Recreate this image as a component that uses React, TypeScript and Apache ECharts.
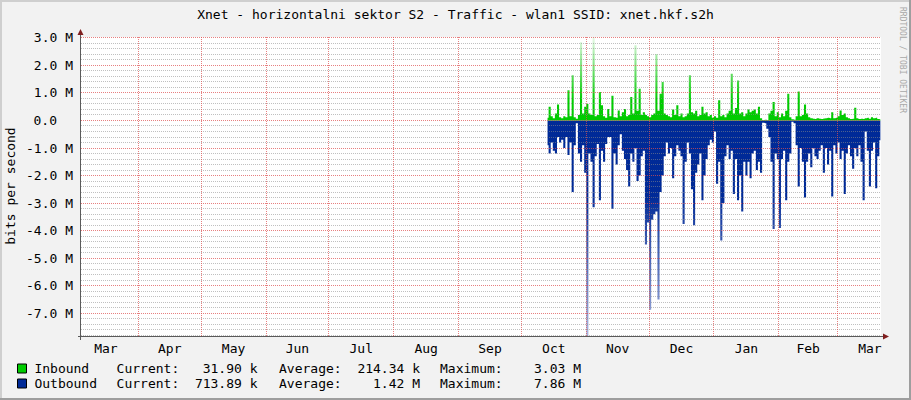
import React, { useEffect, useRef } from "react";
import * as echarts from "echarts";

const TITLE = "Xnet - horizontalni sektor S2 - Traffic - wlan1 SSID: xnet.hkf.s2h";
const Y_NAME = "bits per second";
const WATERMARK = "RRDTOOL / TOBI OETIKER";

// x axis: days counted from 1 March of the first year
const X_MIN = 3.6;
const X_MAX = 385.8;
const MONTH_STARTS = [0, 31, 61, 92, 122, 153, 184, 214, 245, 275, 306, 337, 365];
const MONTH_MIDS = [15.5, 46, 76.5, 107, 137.5, 168.5, 199, 229.5, 260, 290.5, 321.5, 351, 380.5];
const MONTH_LABELS = ["Mar", "Apr", "May", "Jun", "Jul", "Aug", "Sep", "Oct", "Nov", "Dec", "Jan", "Feb", "Mar"];

// y axis in Mbit/s
const Y_MIN = -7.86;
const Y_MAX = 3.03;
const Y_MAJOR = [-7, -6, -5, -4, -3, -2, -1, 0, 1, 2, 3];

// daily samples, first sample on day 226.5 (mid October)
const FIRST_DAY = 226.5;
const INBOUND = [
  0.1, 0.5, 0.15, 0.08, 0.25, 0.58, 0.12, 0.08, 0.15, 0.12,
  1.1, 0.15, 1.64, 0.12, 0.06, 0.2, 2.84, 0.25, 0.5, 0.6,
  0.25, 0.2, 3.03, 0.15, 0.2, 1.03, 0.55, 0.15, 0.1, 0.42,
  0.15, 0.9, 0.12, 0.1, 0.36, 0.15, 0.3, 0.42, 0.15, 0.2,
  0.85, 0.25, 2.73, 0.35, 1.15, 0.2, 0.3, 0.2, 0.15, 0.12,
  0.2, 0.25, 2.4, 0.35, 0.97, 1.4, 0.25, 0.2, 0.15, 0.12,
  0.4, 0.2, 0.55, 0.15, 0.25, 0.12, 0.15, 0.25, 1.64, 0.3,
  0.25, 0.35, 0.15, 0.2, 0.5, 0.25, 0.3, 0.15, 0.2, 0.1,
  0.15, 0.1, 0.73, 0.15, 0.2, 0.12, 0.25, 0.35, 1.7, 0.25,
  0.45, 1.45, 0.25, 0.3, 0.15, 0.25, 0.4, 0.3, 0.35, 0.4,
  0.25, 0.5, 0.08, 0.02, 0.03, 0.02, 0.25, 0.35, 0.67, 0.15,
  0.3, 0.12, 0.25, 0.15, 0.35, 0.97, 0.12, 0.04, 0.03, 0.15,
  1.05, 0.15, 0.2, 0.58, 0.25, 0.12, 0.08, 0.06, 0.05, 0.08,
  0.06, 0.05, 0.07, 0.08, 0.1, 0.08, 0.3, 0.08, 0.1, 0.15,
  0.36, 0.2, 0.25, 0.12, 0.08, 0.05, 0.06, 0.46, 0.08, 0.05,
  0.06, 0.05, 0.08, 0.1, 0.06, 0.12, 0.08, 0.1, 0.05, 0.032,
];
const OUTBOUND = [
  -0.9, -1.2, -0.8, -1.1, -1.2, -0.6, -0.8, -0.7, -1.0, -0.6,
  -1.25, -0.8, -2.6, -0.9, -0.1, -1.2, -1.5, -0.9, -1.9, -7.86,
  -1.2, -1.5, -3.15, -1.3, -0.85, -2.9, -1.1, -1.5, -0.85, -0.6,
  -0.6, -3.2, -1.2, -1.6, -0.9, -0.5, -1.1, -1.4, -1.8, -2.4,
  -1.2, -1.5, -1.0, -2.2, -2.0, -1.3, -1.1, -4.5, -3.7, -6.87,
  -3.6, -3.4, -3.3, -6.5, -2.6, -2.0, -1.3, -0.8, -1.2, -1.0,
  -2.1, -1.3, -0.9, -1.1, -1.3, -3.76, -1.5, -0.8, -1.2, -2.5,
  -3.8, -1.9, -1.6, -1.2, -2.9, -2.0, -1.4, -0.9, -0.7, -0.8,
  -0.4, -2.3, -1.5, -4.36, -3.0, -1.3, -0.9, -1.4, -1.1, -2.67,
  -1.4, -2.9, -2.0, -3.3, -1.5, -2.0, -1.5, -2.1, -1.2, -1.1,
  -1.8, -1.5, -1.9, -0.08, -0.1, -0.3, -0.6, -1.5, -3.94, -1.2,
  -1.4, -3.9, -1.4, -1.1, -2.9, -1.5, -1.2, -0.05, -0.1, -0.9,
  -2.4, -1.0, -1.5, -2.8, -1.5, -1.2, -1.7, -1.0, -1.3, -1.4,
  -1.1, -0.9, -1.9, -1.0, -1.6, -1.1, -2.76, -0.9, -1.2, -0.8,
  -1.4, -1.1, -2.67, -1.2, -0.9, -1.3, -1.75, -1.0, -1.3, -0.9,
  -1.5, -2.9, -0.4, -1.1, -2.4, -1.1, -0.8, -2.46, -1.3, -0.714,
];

const LEGEND_ROWS = [
  { name: "Inbound", color: "#00cc00", current: "31.90 k", average: "214.34 k", maximum: "3.03 M" },
  { name: "Outbound", color: "#002a97", current: "713.89 k", average: "1.42 M", maximum: "7.86 M" },
];

const MONO = '"DejaVu Sans Mono", monospace';

export default function App() {
  const ref = useRef<HTMLDivElement>(null);

  useEffect(() => {
    if (!ref.current) return;
    const chart = echarts.init(ref.current, undefined, { renderer: "svg" });

    const yMinor: number[] = [];
    for (let k = Math.ceil(Y_MIN * 5); k <= Math.floor(Y_MAX * 5); k++) {
      if (k % 5 !== 0) yMinor.push(k / 5);
    }
    const xMajor = MONTH_STARTS.filter((d) => d > X_MIN && d < X_MAX);

    const inData = INBOUND.map((v, i) => [FIRST_DAY + i, v]);
    const outData = OUTBOUND.map((v, i) => [FIRST_DAY + i, v]);

    const font13 = `13px ${MONO}`;
    const legendGraphics: any[] = [];
    LEGEND_ROWS.forEach((r, idx) => {
      const cy = 368.5 + idx * 15;
      legendGraphics.push({
        type: "rect",
        shape: { x: 17.5, y: cy - 4.5, width: 9, height: 9 },
        style: { fill: r.color, stroke: "#000", lineWidth: 1 },
      });
      const t = (text: string, x: number, align: string) => ({
        type: "text",
        x,
        y: cy,
        style: { text, font: font13, fill: "#000", textAlign: align, align, textVerticalAlign: "middle", verticalAlign: "middle" },
      });
      legendGraphics.push(t(r.name, 34.4, "left"));
      legendGraphics.push(t("Current:", 116.6, "left"));
      legendGraphics.push(t(r.current, 257.5, "right"));
      legendGraphics.push(t("Average:", 279, "left"));
      legendGraphics.push(t(r.average, 420, "right"));
      legendGraphics.push(t("Maximum:", 440, "left"));
      legendGraphics.push(t(r.maximum, 581, "right"));
    });

    // grid lines drawn through the axes' scales, snapped to crisp pixels
    const gridSeries = (name: string, values: number[], vertical: boolean, color: string, z: number) => ({
      name,
      type: "custom",
      z,
      silent: true,
      clip: false,
      data: values.map((v) => (vertical ? [v, 0] : [X_MIN, v])),
      encode: { x: 0, y: 1 },
      renderItem: (params: any, api: any) => {
        const cs = params.coordSys;
        const style = { stroke: color, lineWidth: 1, lineDash: [1, 1], fill: null };
        if (vertical) {
          const p = api.coord([api.value(0), 0]);
          const x = Math.floor(p[0]) + 0.5;
          return { type: "line", shape: { x1: x, y1: cs.y, x2: x, y2: cs.y + cs.height }, style };
        }
        const p = api.coord([X_MIN, api.value(1)]);
        const y = Math.floor(p[1]) + 0.5;
        return { type: "line", shape: { x1: cs.x, y1: y, x2: cs.x + cs.width, y2: y }, style };
      },
    });

    chart.setOption({
      animation: false,
      backgroundColor: "#f2f2f2",
      grid: { left: 81, top: 37, width: 800, height: 300, show: true, backgroundColor: "#ffffff", borderWidth: 0, containLabel: false },
      xAxis: {
        type: "value",
        min: X_MIN,
        max: X_MAX,
        axisLine: { show: false },
        axisTick: { show: false },
        axisLabel: {
          customValues: MONTH_MIDS,
          margin: 5,
          color: "#000",
          fontFamily: MONO,
          fontSize: 13,
          formatter: (v: number) => {
            let best = 0;
            for (let i = 1; i < MONTH_MIDS.length; i++) if (Math.abs(MONTH_MIDS[i] - v) < Math.abs(MONTH_MIDS[best] - v)) best = i;
            return MONTH_LABELS[best];
          },
        },
        splitLine: { show: false },
      },
      yAxis: [
        {
          type: "value",
          position: "left",
          min: Y_MIN,
          max: Y_MAX,
          axisLine: { show: false },
          axisTick: { show: false },
          axisLabel: {
            customValues: Y_MAJOR,
            margin: 8,
            color: "#000",
            fontFamily: MONO,
            fontSize: 13,
            formatter: (v: number) => (Math.abs(v) < 1e-9 ? "{z|0.0}" : `${v.toFixed(1)} M`),
            rich: { z: { padding: [0, 16, 0, 0], fontFamily: MONO, fontSize: 13, color: "#000" } },
          },
          splitLine: { show: false },
        },
      ],
      series: [
        {
          name: "Outbound",
          type: "line",
          data: outData,
          step: "middle",
          symbol: "none",
          silent: true,
          z: 2,
          lineStyle: { opacity: 0, width: 0 },
          areaStyle: {
            opacity: 1,
            color: new echarts.graphic.LinearGradient(0, 120.5, 0, 337, [
              { offset: 0, color: "#002a97" },
              { offset: 0.35, color: "#002a97" },
              { offset: 1, color: "#aab6e0" },
            ], true),
          },
        },
        {
          name: "Inbound",
          type: "line",
          data: inData,
          step: "middle",
          symbol: "none",
          silent: true,
          z: 2,
          lineStyle: { opacity: 0, width: 0 },
          areaStyle: {
            opacity: 1,
            color: new echarts.graphic.LinearGradient(0, 120.5, 0, 37, [
              { offset: 0, color: "#00cc00" },
              { offset: 0.25, color: "#00cc00" },
              { offset: 1, color: "#eaf9ea" },
            ], true),
          },
        },
        gridSeries("minorGrid", yMinor, false, "rgba(140,140,140,0.55)", 4),
        gridSeries("majorGridY", Y_MAJOR, false, "rgba(222,79,79,0.72)", 5),
        gridSeries("majorGridX", xMajor, true, "rgba(222,79,79,0.72)", 5),
      ],
      graphic: [
        // frame shading
        { type: "rect", shape: { x: 0, y: 0, width: 911, height: 2 }, style: { fill: "#cfcfcf" }, silent: true },
        { type: "rect", shape: { x: 0, y: 0, width: 2, height: 400 }, style: { fill: "#cfcfcf" }, silent: true },
        { type: "rect", shape: { x: 0, y: 398, width: 911, height: 2 }, style: { fill: "#9e9e9e" }, silent: true },
        { type: "rect", shape: { x: 909, y: 0, width: 2, height: 400 }, style: { fill: "#9e9e9e" }, silent: true },
        // axes
        { type: "line", shape: { x1: 80.5, y1: 340, x2: 80.5, y2: 33 }, style: { stroke: "#5a5a5a", lineWidth: 1 }, z: 10, silent: true },
        { type: "line", shape: { x1: 78, y1: 336.5, x2: 884, y2: 336.5 }, style: { stroke: "#5a5a5a", lineWidth: 1 }, z: 10, silent: true },
        { type: "polygon", shape: { points: [[77.5, 35], [83.5, 35], [80.5, 29]] }, style: { fill: "#801f1f" }, z: 10, silent: true },
        { type: "polygon", shape: { points: [[883, 333.5], [883, 339.5], [889, 336.5]] }, style: { fill: "#801f1f" }, z: 10, silent: true },
        // title, axis name, watermark
        {
          type: "text", x: 455.5, y: 14,
          style: { text: TITLE, font: font13, fill: "#000", textAlign: "center", align: "center", textVerticalAlign: "middle", verticalAlign: "middle" },
        },
        {
          type: "text", x: 10, y: 186, rotation: Math.PI / 2,
          style: { text: Y_NAME, font: font13, fill: "#000", textAlign: "center", align: "center", textVerticalAlign: "middle", verticalAlign: "middle" },
        },
        {
          type: "text", x: 902, y: 60, rotation: -Math.PI / 2,
          style: { text: WATERMARK, font: `8px ${MONO}`, fill: "#a8a8a8", textAlign: "center", align: "center", textVerticalAlign: "middle", verticalAlign: "middle" },
        },
        ...legendGraphics,
      ],
    });

    return () => chart.dispose();
  }, []);

  return <div ref={ref} style={{ position: "fixed", left: 0, top: 0, width: 911, height: 400 }} />;
}
